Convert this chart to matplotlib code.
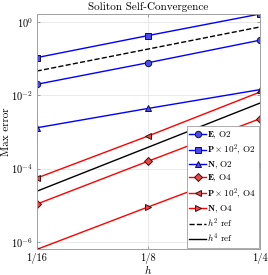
import numpy as np
import matplotlib
matplotlib.use("Agg")
import matplotlib.pyplot as plt
from matplotlib.ticker import FixedLocator, FixedFormatter, NullLocator

plt.rcParams['font.family'] = ['cmr10', 'DejaVu Serif']
plt.rcParams['mathtext.fontset'] = 'cm'
plt.rcParams['axes.formatter.use_mathtext'] = True

h = [1/16, 1/8, 1/4]
h_labels = ['1/16', '1/8', '1/4']

E_O2 = [0.020, 0.078, 0.32]
P_O2 = [0.107, 0.43, 1.66]
N_O2 = [0.0013, 0.0044, 0.0143]
E_O4 = [1.07e-5, 1.6e-4, 2.3e-3]
P_O4 = [5.5e-5, 7.8e-4, 0.0123]
N_O4 = [6.2e-7, 9.0e-6, 1.26e-4]
ref2 = [0.046, 0.184, 0.736]
ref4 = [2.4e-5, 3.84e-4, 6.14e-3]

yticks = [1e-6, 1e-4, 1e-2, 1e0]

fig = plt.figure(figsize=(2.68, 2.75), dpi=100)
ax = fig.add_axes([0.137, 0.093, 0.833, 0.856])

blue_fill = '#4a4aee'
red_fill = '#e84848'
ms = 4.6
lw = 1.0
mew = 0.7

ax.plot(h, E_O2, '-', color='#0000ff', lw=lw, marker='o', ms=ms, mfc=blue_fill, mec='#101040', mew=mew,
        label=r'$\mathbf{E}$, O2')
ax.plot(h, P_O2, '-', color='#0000ff', lw=lw, marker='s', ms=ms - 0.5, mfc=blue_fill, mec='#101040', mew=mew,
        label=r'$\mathbf{P}\times10^2$, O2')
ax.plot(h, N_O2, '-', color='#0000ff', lw=lw, marker='^', ms=ms + 0.4, mfc=blue_fill, mec='#101040', mew=mew,
        label=r'$\mathbf{N}$, O2')
ax.plot(h, E_O4, '-', color='#ff0000', lw=lw, marker='D', ms=ms - 0.9, mfc=red_fill, mec='#401010', mew=mew,
        label=r'$\mathbf{E}$, O4')
ax.plot(h, P_O4, '-', color='#ff0000', lw=lw, marker='<', ms=ms + 0.4, mfc=red_fill, mec='#401010', mew=mew,
        label=r'$\mathbf{P}\times10^2$, O4')
ax.plot(h, N_O4, '-', color='#ff0000', lw=lw, marker='>', ms=ms + 0.4, mfc=red_fill, mec='#401010', mew=mew,
        label=r'$\mathbf{N}$, O4')
ax.plot(h, ref2, '--', color='black', lw=1.0, label=r'$h^2$ ref')
ax.plot(h, ref4, '-', color='black', lw=1.0, label=r'$h^4$ ref')

ax.set_xscale('log', base=2)
ax.set_yscale('log')
ax.set_xlim(h[0], h[-1])
ax.set_ylim(min(N_O4), max(P_O2))

ax.xaxis.set_major_locator(FixedLocator(h))
ax.xaxis.set_major_formatter(FixedFormatter(h_labels))
ax.xaxis.set_minor_locator(NullLocator())
ax.yaxis.set_major_locator(FixedLocator(yticks))
ax.yaxis.set_minor_locator(NullLocator())

ax.grid(True, color='#e6e6e6', lw=0.6)
ax.set_axisbelow(True)
for sp in ax.spines.values():
    sp.set_color('#a0a0a0')
    sp.set_linewidth(0.7)
ax.tick_params(direction='in', length=2.5, width=0.5, color='#808080', labelsize=7.5, pad=2.5,
               top=True, right=True)

ax.set_title('Soliton Self-Convergence', fontsize=8, pad=3)
ax.set_xlabel(r'$h$', fontsize=8, labelpad=-1)
ax.set_ylabel('Max error', fontsize=8, labelpad=0)

leg = ax.legend(loc='lower right', fontsize=6.6, frameon=True, fancybox=False, edgecolor='#a0a0a0',
                borderpad=0.3, labelspacing=0.22, handlelength=1.8, handletextpad=0.1,
                borderaxespad=0.15, framealpha=1)
leg.get_frame().set_linewidth(0.6)

fig.savefig('out.png', dpi=100)
